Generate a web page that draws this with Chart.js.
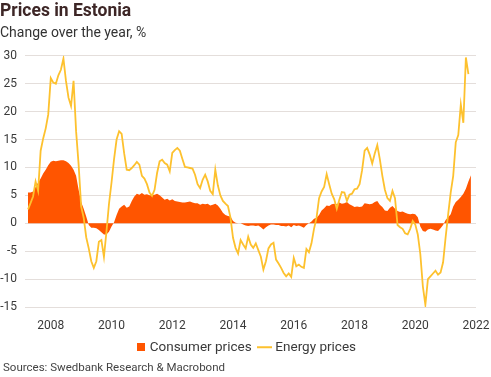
<!DOCTYPE html>
<html>
<head>
<meta charset="utf-8">
<title>Prices in Estonia</title>
<script src="https://cdn.jsdelivr.net/npm/chart.js@4"></script>
<style>
  html, body { margin: 0; padding: 0; background: #fff; }
</style>
</head>
<body>
<canvas id="pricesChart" width="491" height="377"></canvas>
<script>
// monthly series, first value is April 2007
var firstYear = 2007;
var firstMonth = 4;
var lastYear = 2022;   // axis runs to January 2022
var yearTicks = ['2008', '2010', '2012', '2014', '2016', '2018', '2020', '2022'];

var consumerPrices = [
  5.5, 5.5, 5.7, 6.5, 7.3, 8.0, 8.9, 9.6, 10.4, 11.0,
  11.2, 11.1, 11.2, 11.3, 11.3, 11.1, 10.8, 10.3, 9.6, 8.5,
  6.0, 3.8, 2.6, 1.2, -0.3, -0.8, -0.8, -0.9, -1.2, -1.6,
  -2.0, -2.0, -1.5, -0.6, 0.2, 1.5, 2.6, 3.0, 3.3, 2.8,
  3.0, 4.0, 4.8, 5.3, 5.1, 5.4, 5.1, 5.2, 5.0, 5.0,
  5.1, 5.3, 5.0, 4.6, 4.2, 4.4, 4.1, 4.3, 4.0, 3.9,
  3.8, 3.7, 3.7, 3.8, 3.9, 3.7, 3.6, 3.6, 3.3, 3.5,
  3.4, 3.5, 3.2, 3.3, 3.5, 3.2, 2.6, 1.9, 1.5, 1.3,
  1.2, 0.4, 0.1, 0.0, 0.0, -0.2, -0.4, -0.5, -0.4, -0.4,
  -0.5, -0.4, -0.7, -1.1, -0.7, -0.4, -0.2, -0.2, -0.3, -0.3,
  -0.5, -0.5, -0.6, -0.4, -0.7, -0.3, -0.5, -0.4, -0.6, -0.8,
  -0.3, 0.0, 0.3, 0.8, 1.0, 1.5, 2.3, 2.7, 3.2, 3.1,
  3.4, 3.5, 3.4, 3.7, 3.5, 3.6, 3.8, 3.4, 3.2, 2.9,
  3.0, 2.9, 3.0, 3.6, 3.5, 3.4, 3.5, 3.8, 4.0, 3.3,
  2.9, 2.3, 2.2, 2.8, 3.1, 2.6, 2.2, 2.0, 2.1, 1.9,
  1.7, 1.6, 1.7, 1.6, 1.1, -0.6, -1.4, -1.5, -1.1, -1.0,
  -1.1, -1.3, -1.4, -0.9, -0.3, 0.6, 1.1, 1.6, 3.0, 3.8,
  4.2, 4.7, 5.3, 6.2, 7.5, 8.6
];

var energyPrices = [
  2.5, 3.6, 4.8, 7.5, 5.8, 13.0, 15.2, 17.0, 19.5, 26.0,
  25.2, 25.0, 26.5, 27.5, 29.5, 25.5, 22.5, 21.0, 25.5, 16.5,
  10.5, 3.0, 1.0, -2.5, -4.5, -6.8, -8.0, -6.8, -3.3, -3.0,
  -6.0, -1.5, 3.5, 7.3, 11.5, 15.0, 16.5, 16.0, 12.5, 9.6,
  9.5, 9.9, 10.4, 11.0, 10.5, 8.5, 8.0, 7.0, 5.5, 4.9,
  6.0, 9.0, 11.1, 11.4, 10.8, 10.5, 9.3, 12.6, 13.1, 13.5,
  13.0, 11.5, 10.1, 10.0, 9.9, 9.8, 8.7, 7.0, 6.3, 7.8,
  8.7, 7.5, 5.8, 5.2, 9.6, 6.8, 5.0, 4.0, 3.5, 3.1,
  1.0, -2.6, -4.4, -5.4, -3.0, -3.8, -4.5, -2.4, -3.8, -4.4,
  -3.6, -4.8, -6.0, -8.3, -6.8, -4.5, -3.8, -3.5, -6.5, -7.2,
  -8.0, -8.9, -9.5, -9.0, -9.6, -6.2, -7.7, -7.4, -7.8, -8.0,
  -4.6, -5.2, -3.6, -1.0, 1.0, 4.5, 5.7, 6.5, 8.8, 7.0,
  5.3, 4.3, 2.6, 4.2, 5.6, 5.5, 4.0, 5.1, 5.3, 6.1,
  6.2, 7.0, 9.5, 13.0, 13.5, 12.3, 10.7, 12.5, 14.0, 11.5,
  8.5, 6.0, 4.5, 4.0, 5.8, 4.5, -0.3, -0.7, -1.0, -1.8,
  -2.0, -1.0, 0.4, -0.2, -2.0, -5.5, -11.3, -14.6, -10.0, -9.5,
  -9.0, -8.5, -9.2, -8.8, -7.0, -2.5, 1.6, 5.5, 8.5, 14.5,
  15.8, 21.3, 18.0, 29.7, 26.7
];

var sourceText = 'Sources: Swedbank Research & Macrobond';

// month labels from April 2007 up to January 2022
var months = [];
var yr = firstYear, mo = firstMonth;
while (yr < lastYear || (yr === lastYear && mo === 1)) {
    months.push(yr + '-' + (mo < 10 ? '0' + mo : mo));
    mo++;
    if (mo > 12) { mo = 1; yr++; }
}

var orange = '#ff5500';
var yellow = '#fdc12e';
var gridColor = '#e4dedb';
var textColor = '#3a3a3a';

// small legend markers: a square and a short line
function makeMarker(w, h, color, lineOnly) {
    var c = document.createElement('canvas');
    c.width = w;
    c.height = h;
    var g = c.getContext('2d');
    g.fillStyle = color;
    if (lineOnly) {
        g.fillRect(0, Math.floor(h / 2) - 1, w, 2);
    } else {
        g.fillRect(w - h, 0, h, h);   // square pushed to the right, nearer the text
    }
    return c;
}
var squareMarker = makeMarker(12, 8, orange, false);
var lineMarker = makeMarker(15, 8, yellow, true);

var sourceNote = {
    id: 'sourceNote',
    afterDraw: function (chart) {
        var ctx = chart.ctx;
        ctx.save();
        ctx.font = '11.5px Roboto';
        ctx.fillStyle = '#444';
        ctx.textBaseline = 'middle';
        ctx.textAlign = 'left';
        ctx.fillText(sourceText, 3, 368);
        ctx.restore();
    }
};

Chart.defaults.font.family = 'Roboto';
Chart.defaults.color = textColor;

var ctx = document.getElementById('pricesChart').getContext('2d');
var pricesChart = new Chart(ctx, {
    type: 'line',
    data: {
        labels: months,
        datasets: [{
            label: 'Consumer prices',
            data: consumerPrices,
            fill: 'origin',
            backgroundColor: orange,
            borderColor: 'rgba(0,0,0,0)',
            borderWidth: 0,
            pointRadius: 0,
            pointStyle: squareMarker,
            tension: 0
        }, {
            label: 'Energy prices',
            data: energyPrices,
            fill: false,
            borderColor: yellow,
            backgroundColor: yellow,
            borderWidth: 1.8,
            pointRadius: 0,
            pointStyle: lineMarker,
            tension: 0
        }]
    },
    options: {
        responsive: false,
        devicePixelRatio: 1,
        animation: false,
        layout: { padding: { left: 0, right: 0, top: 0, bottom: 13 } },
        plugins: {
            filler: { drawTime: 'beforeDatasetsDraw' },
            tooltip: { enabled: false },
            title: {
                display: true,
                text: 'Prices in Estonia',
                align: 'start',
                color: '#3d2626',
                font: { size: 17.5, weight: 'bold' },
                padding: { top: 1, bottom: 1 }
            },
            subtitle: {
                display: true,
                text: 'Change over the year, %',
                align: 'start',
                color: '#333',
                font: { size: 14 },
                padding: { top: 2, bottom: 14 }
            },
            legend: {
                position: 'bottom',
                labels: {
                    usePointStyle: true,
                    pointStyleWidth: 8,
                    boxHeight: 8,
                    padding: 9,
                    color: '#3a3a3a',
                    font: { size: 13.5 }
                }
            }
        },
        scales: {
            x: {
                afterFit: function (scale) {
                    scale.height = 24.5;
                    scale.paddingLeft = 0;
                    scale.paddingRight = 15;
                },
                grid: { display: false, drawTicks: false },
                border: { display: false },
                ticks: {
                    autoSkip: false,
                    maxRotation: 0,
                    padding: 12,
                    font: { size: 12 },
                    color: textColor,
                    callback: function (value) {
                        var parts = this.getLabelForValue(value).split('-');
                        return (parts[1] === '01' && yearTicks.indexOf(parts[0]) !== -1) ? parts[0] : null;
                    }
                }
            },
            y: {
                min: -15,
                max: 30,
                afterFit: function (scale) { scale.width = 28; },
                grid: { color: gridColor, tickLength: 3, lineWidth: 1 },
                border: { display: false },
                ticks: { stepSize: 5, padding: 8, font: { size: 12 }, color: textColor }
            }
        }
    },
    plugins: [sourceNote]
});
</script>
</body>
</html>
